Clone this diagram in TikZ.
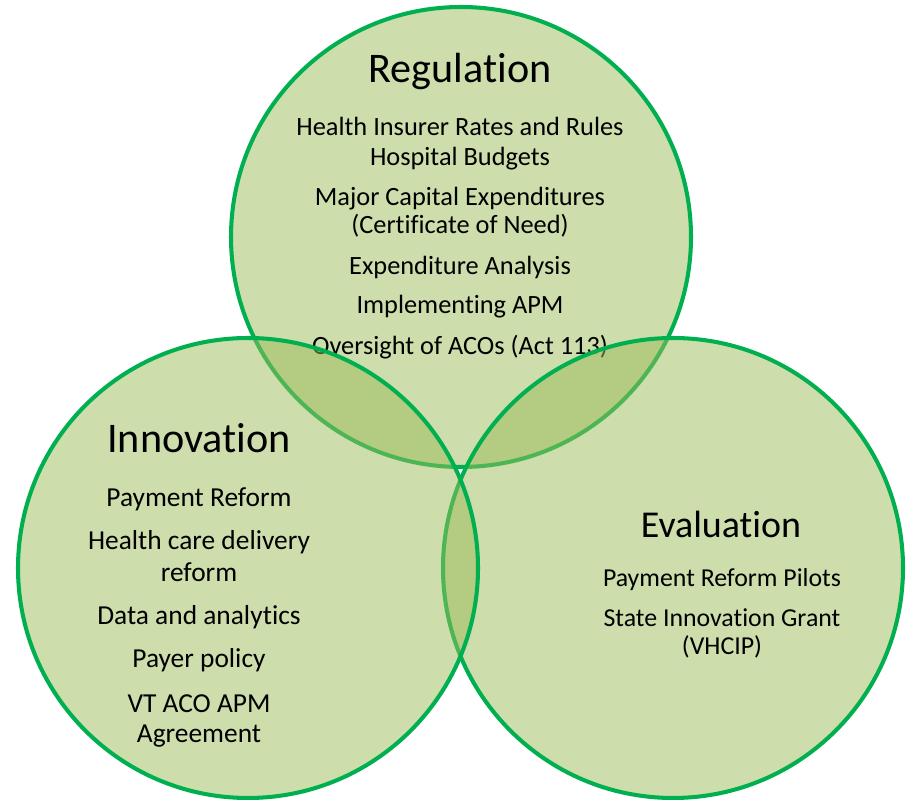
\documentclass[tikz,border=0pt]{standalone}
\usepackage{fontspec}
\setmainfont{Carlito}[Ligatures={NoCommon}]
\definecolor{ringline}{HTML}{00B050}
\definecolor{ringfill}{HTML}{9BBB59}

\begin{document}
\begin{tikzpicture}[
  ring/.style={draw=ringline, line width=2.3pt, fill=ringfill, fill opacity=0.5},
  head/.style={anchor=base, font=\fontsize{24}{28}\selectfont},
  item/.style={anchor=base, font=\fontsize{15}{18}\selectfont}]
\useasboundingbox (0,0) rectangle (18.22,16);

% Vòng tròn trên: Regulation
\draw[ring] (9.22,11.26) circle (4.6);
\node[head] (reg) at (9.2,14.34) {Regulation};
\foreach \y/\t [count=\i] in {13.28/{Health Insurer Rates and Rules}, 12.68/{Hospital Budgets},
    11.88/{Major Capital Expenditures}, 11.32/{(Certificate of Need)},
    10.5/{Expenditure Analysis}, 9.72/{Implementing APM}, 8.9/{Oversight of ACOs (Act 113)}} {
    \node[item] (reg-\i) at (9.2,\y) {\t};
}

% Vòng tròn phải và trái (trái nằm trên cùng)
\draw[ring] (13.46,4.64) circle (4.6);
\draw[ring] (4.96,4.64) circle (4.6);

% Chữ trong vòng tròn trái: Innovation
\node[head] (inn) at (3.98,6.94) {Innovation};
\foreach \y/\t [count=\i] in {5.86/{Payment Reform}, 5.0/{Health care delivery}, 4.36/{reform},
    3.5/{Data and analytics}, 2.64/{Payer policy}, 1.74/{VT ACO APM}, 1.14/{Agreement}} {
    \node[item, font=\fontsize{15.6}{18}\selectfont] (inn-\i) at (3.98,\y) {\t};
}

% Chữ trong vòng tròn phải: Evaluation
\node[head, font=\fontsize{21.6}{26}\selectfont] (eva) at (14.42,5.24) {Evaluation};
\foreach \y/\t [count=\i] in {4.26/{Payment Reform Pilots}, 3.46/{State Innovation Grant}, 2.9/{(VHCIP)}} {
    \node[item, font=\fontsize{14.7}{18}\selectfont] (eva-\i) at (14.44,\y) {\t};
}
\end{tikzpicture}
\end{document}
